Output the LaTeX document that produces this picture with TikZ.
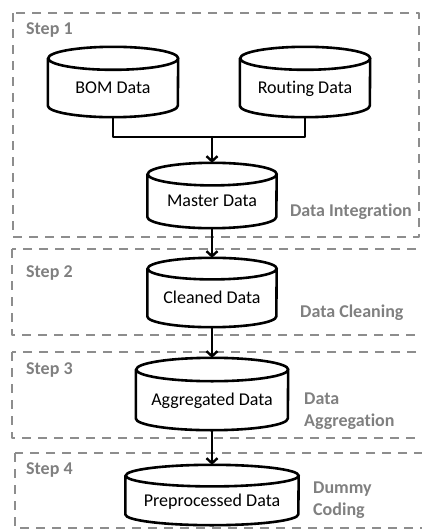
\documentclass[tikz,border=0pt]{standalone}
\usepackage{fontspec}
\setmainfont[Ligatures=NoCommon]{Carlito}
\usetikzlibrary{calc}
\usetikzlibrary{arrows.meta}
\definecolor{stepgray}{RGB}{128,128,128}
\tikzstyle{every node}=[font=\fontsize{18}{22}\selectfont]
\tikzstyle{every path}=[line cap=round,line join=round]
\newcommand{\drum}[3]{\draw[drumline] ($(#1.north west)+(0,-#3)$) -- ($(#1.south west)+(0,#3)$)
		arc[start angle=180,end angle=360,x radius=#2,y radius=#3] -- ($(#1.north east)+(0,-#3)$)
		arc[start angle=0,end angle=360,x radius=#2,y radius=#3];}

\begin{document}
\begin{tikzpicture}[x=1pt,y=1pt]
		\tikzstyle{db} = [rectangle,inner sep=0pt,text height=22pt,text depth=0pt]
		\tikzstyle{drumline} = [line width=2.6pt]
		\tikzstyle{arrow} = [line width=2.4pt,-{Straight Barb[length=5pt,width=11pt]}]
		\tikzstyle{stage} = [draw=stepgray!90,line width=2.6pt,dash pattern=on 9pt off 7pt,line cap=butt]
		\tikzstyle{steplabel} = [text=stepgray,font=\fontsize{18}{22}\selectfont\bfseries,anchor=west,inner sep=0pt]
		\tikzstyle{tasklabel} = [steplabel,align=left]
		
		\useasboundingbox (0,0) rectangle (421,-530);
		
		% stage frames
		\draw[stage] (13,-13) rectangle (419,-237);
		\draw[stage] (12,-249) rectangle (440,-335);
		\draw[stage] (12,-352) rectangle (440,-438);
		\draw[stage] (15,-453) rectangle (440,-528);
		
		\node[steplabel] (s1) at (26,-30) {Step 1};
		\node[steplabel] (s2) at (26,-273) {Step 2};
		\node[steplabel] (s3) at (26,-370) {Step 3};
		\node[steplabel] (s4) at (26,-470) {Step 4};
		
		\node[tasklabel,anchor=east] (t1) at (412,-212) {Data Integration};
		\node[tasklabel] (t2) at (300,-313) {Data Cleaning};
		\node[tasklabel] (t3) at (304,-411) {Data\\Aggregation};
		\node[tasklabel] (t4) at (313,-500) {Dummy\\Coding};
		
		% data stores
		\node[db,minimum width=130pt,minimum height=70pt] (bom) at (113,-82) {BOM Data};
		\node[db,minimum width=130pt,minimum height=70pt] (routing) at (305,-82) {Routing Data};
		\node[db,minimum width=129pt,minimum height=65pt] (master) at (212,-195.5) {Master Data};
		\node[db,minimum width=129pt,minimum height=69pt] (cleaned) at (212,-292.5) {Cleaned Data};
		\node[db,minimum width=152pt,minimum height=72pt] (aggregated) at (212,-394) {Aggregated Data};
		\node[db,minimum width=173pt,minimum height=60pt] (preproc) at (212,-495) {Preprocessed Data};
		\drum{bom}{65}{11.5}
		\drum{routing}{65}{11.5}
		\drum{master}{64.5}{11.3}
		\drum{cleaned}{64.5}{10.8}
		\drum{aggregated}{76}{11.7}
		\drum{preproc}{86.5}{10.8}
		
		\coordinate (join) at (212,-137);
		\draw[line width=2.4pt] (bom.south) |- (join);
		\draw[line width=2.4pt] (routing.south) |- (join);
		\draw[arrow] (join) -- (master.north);
		\draw[arrow] (master.south) -- (cleaned.north);
		\draw[arrow] (cleaned.south) -- (aggregated.north);
		\draw[arrow] (aggregated.south) -- (preproc.north);
		
	\end{tikzpicture}
\end{document}
